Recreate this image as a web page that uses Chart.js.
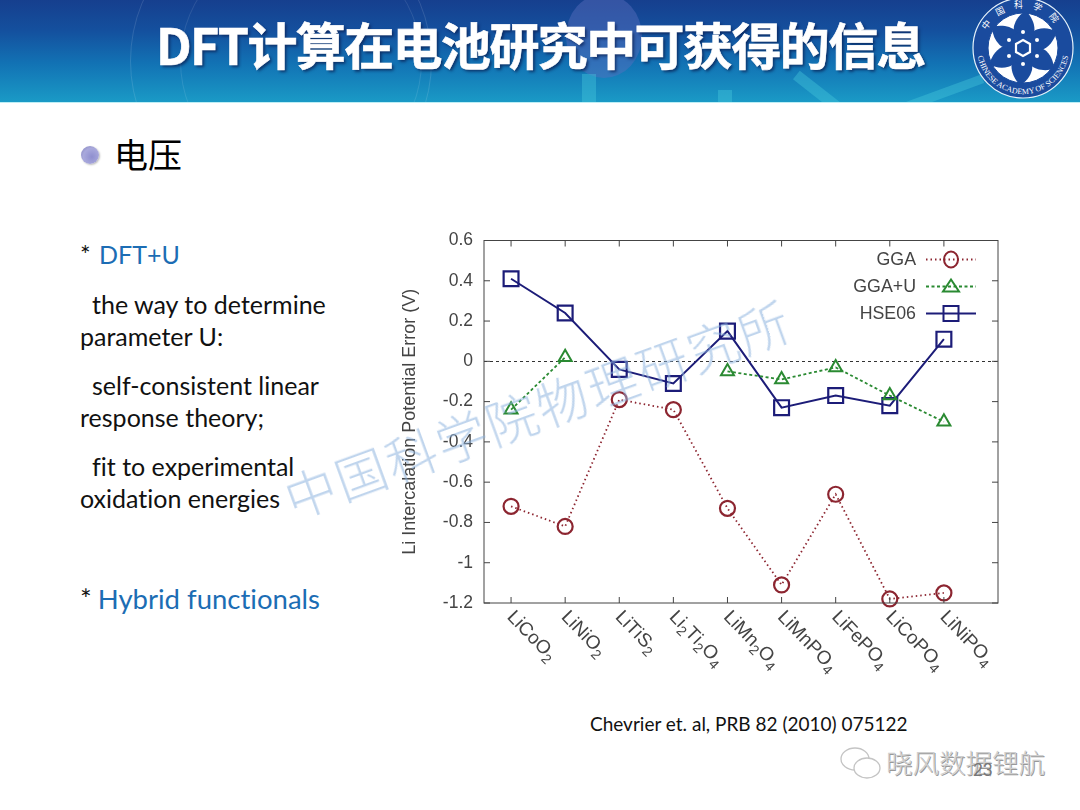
<!DOCTYPE html>
<html>
<head>
<meta charset="utf-8">
<script src="https://cdn.jsdelivr.net/npm/chart.js@4"></script>
<style>
  html, body { margin: 0; padding: 0; background: #fff; }
  #slide { position: relative; width: 1080px; height: 810px; overflow: hidden; background: #fff; font-family: Lato, "Open Sans", sans-serif; color: #111; font-variant-ligatures: none; }
  #header { position: absolute; left: 0; top: 0; width: 1080px; height: 102px; overflow: hidden;
    background: linear-gradient(180deg, #163f8e 0%, #14509e 30%, #1272b4 62%, #1a9ac6 100%); border-bottom: 1px solid #bdeef5; }
  #header .glow { position: absolute; border-radius: 50%; }
  #header .stick { position: absolute; background: rgba(70,200,220,.4); }
  #title { position: absolute; left: 156px; top: 11px; font: 700 50px "Noto Sans CJK SC", sans-serif; letter-spacing: -1.6px; line-height: 64px; color: #fff; white-space: nowrap; -webkit-text-stroke: .6px #fff; text-shadow: 2px 2px 3px rgba(10,30,80,.75); }
  #logo { position: absolute; left: 969px; top: -5px; }
  .line { position: absolute; font-size: 25px; line-height: 32px; white-space: nowrap; transform: translateY(-17px); }
  .blue { color: #1c6db4; margin-left: 2px; }
  #bullet { position: absolute; left: 81px; top: 146px; width: 18px; height: 18px; border-radius: 50%; background: radial-gradient(circle at 60% 60%, #8f8fcf, #a9a9dc 55%, #7f7fb8); box-shadow: 1px 1px 2px #bbb; }
  #head2 { position: absolute; left: 114px; top: 130px; font: 34px/48px "Noto Sans CJK SC", sans-serif; color: #000; }
  #wrap { position: absolute; left: 395px; top: 219px; width: 620px; height: 466px; }
  #cite { position: absolute; left: 590px; top: 712px; font-size: 19px; line-height: 24px; white-space: nowrap; }
  #mark { position: absolute; left: 286px; top: 462px; font: 300 51px "Noto Sans CJK SC", sans-serif; color: rgba(140,178,222,.55); white-space: nowrap; transform-origin: 0 50%; transform: rotate(-20deg); letter-spacing: 2.5px; }
  #wechat { position: absolute; left: 886px; top: 745px; font: 300 26.5px/34px "Noto Sans CJK SC", sans-serif; color: #cfcfcf; white-space: nowrap; text-shadow: 1px 1px 0 #999; }
  #page { position: absolute; left: 973px; top: 760px; font-size: 17px; line-height: 20px; color: #777; }
  #bubbles { position: absolute; left: 838px; top: 745px; }
</style>
</head>
<body>
<div id="slide">
  <div id="header">
    <div class="glow" style="left:566px;top:-6px;width:76px;height:84px;background:rgba(90,110,190,.45)"></div>
    <div class="glow" style="left:130px;top:-90px;width:300px;height:300px;border:1px solid rgba(255,255,255,.12)"></div>
    <div class="glow" style="left:180px;top:-60px;width:240px;height:240px;border:1px solid rgba(255,255,255,.10)"></div>
    <div class="stick" style="left:582px;top:74px;width:14px;height:30px"></div>
    <div class="stick" style="left:718px;top:90px;width:14px;height:14px"></div>
    <div class="stick" style="left:790px;top:88px;width:60px;height:11px;transform:rotate(38deg)"></div>
    <div class="stick" style="left:905px;top:88px;width:80px;height:9px;transform:rotate(-20deg)"></div>
    <div id="title">DFT计算在电池研究中可获得的信息</div>
  </div>
  <svg id="logo" width="108" height="106" viewBox="0 0 108 106">
    <defs>
      <path id="arcTop" d="M14 53 A40 40 0 0 1 94 53"></path>
      <path id="arcBot" d="M8 53 A46 46 0 0 0 100 53"></path>
      <path id="petal" d="M54 47 C46 41 44 30 45 25 C47 18 51 13 57 10 C63 16 67 25 65 33 C63 40 58 44 54 47 Z"></path>
    </defs>
    <circle cx="54" cy="53" r="50" fill="#1a4b9e" stroke="#e6f2fa" stroke-width="1.2"></circle>
    <circle cx="54" cy="53" r="35" fill="#fff" stroke="#1a4b9e" stroke-width="1"></circle>
    <g fill="#1a4b9e">
      <use href="#petal" transform="translate(0 6)"></use>
      <use href="#petal" transform="rotate(60 54 53) translate(0 6)"></use>
      <use href="#petal" transform="rotate(120 54 53) translate(0 6)"></use>
      <use href="#petal" transform="rotate(180 54 53) translate(0 6)"></use>
      <use href="#petal" transform="rotate(240 54 53) translate(0 6)"></use>
      <use href="#petal" transform="rotate(300 54 53) translate(0 6)"></use>
      <circle cx="54" cy="53" r="16"></circle>
    </g>
    <polygon points="54,45 61,49 61,57 54,61 47,57 47,49" fill="none" stroke="#fff" stroke-width="2.2"></polygon>
    <g fill="#fff">
      <circle cx="54" cy="37" r="2"></circle><circle cx="68" cy="45" r="2"></circle><circle cx="68" cy="61" r="2"></circle>
      <circle cx="54" cy="69" r="2"></circle><circle cx="40" cy="61" r="2"></circle><circle cx="40" cy="45" r="2"></circle>
    </g>
    <text font-family="Noto Sans CJK SC" font-size="9" fill="#fff" letter-spacing="9"><textPath href="#arcTop" startOffset="50%" text-anchor="middle">中国科学院</textPath></text>
    <text font-family="Liberation Serif" font-size="8" fill="#fff"><textPath href="#arcBot" startOffset="50%" text-anchor="middle">CHINESE ACADEMY OF SCIENCES</textPath></text>
  </svg>

  <div id="bullet"></div>
  <div id="head2">电压</div>

  <div class="line" style="left:80px;top:255px">* <span class="blue">DFT+U</span></div>
  <div class="line" style="left:92px;top:305px">the way to determine</div>
  <div class="line" style="left:80px;top:337px">parameter U:</div>
  <div class="line" style="left:92px;top:386px">self-consistent linear</div>
  <div class="line" style="left:80px;top:418px">response theory;</div>
  <div class="line" style="left:92px;top:467px">fit to experimental</div>
  <div class="line" style="left:80px;top:499px">oxidation energies</div>
  <div class="line" style="left:80px;top:600px;font-size:27.5px">* <span class="blue" style="margin-left:-1px">Hybrid functionals</span></div>

  <div id="wrap"><canvas id="chart" width="620" height="466"></canvas></div>

  <div id="cite">Chevrier et. al, PRB 82 (2010) 075122</div>
  <div id="mark">中国科学院物理研究所</div>
  <svg id="bubbles" width="46" height="38" viewBox="0 0 46 38" fill="#fff" stroke="#c4c4c4" stroke-width="1.3">
    <ellipse cx="17" cy="14" rx="14" ry="11"></ellipse>
    <ellipse cx="29" cy="23" rx="13" ry="10"></ellipse>
  </svg>
  <div id="wechat">晓风数据锂航</div>
  <div id="page">23</div>
</div>

<script>
var categories = ['LiCoO2', 'LiNiO2', 'LiTiS2', 'Li2Ti2O4', 'LiMn2O4', 'LiMnPO4', 'LiFePO4', 'LiCoPO4', 'LiNiPO4'];
var gga = [-0.72, -0.82, -0.19, -0.24, -0.73, -1.11, -0.66, -1.18, -1.15];
var ggaU = [-0.24, 0.02, null, null, -0.05, -0.09, -0.03, -0.17, -0.30];
var hse06 = [0.41, 0.24, -0.04, -0.11, 0.15, -0.23, -0.17, -0.22, 0.11];
var seriesNames = ['GGA', 'GGA+U', 'HSE06'];
var yTitle = 'Li Intercalation Potential Error (V)';

var RED = '#8c2530', GREEN = '#2a8a32', NAVY = '#1c1c78', INK = '#444';

function points(values) {
  return values.map(function (v, i) { return { x: i, y: v }; });
}

// ticks point inwards on all four sides, gnuplot style
var framePlugin = {
  id: 'frame',
  afterDatasetsDraw: function (chart) {
    var a = chart.chartArea, c = chart.ctx, xs = chart.scales.x, ys = chart.scales.y;
    c.save();
    c.strokeStyle = INK;
    c.lineWidth = 1;
    c.strokeRect(a.left, a.top, a.right - a.left, a.bottom - a.top);
    c.beginPath();
    categories.forEach(function (n, i) {
      var px = xs.getPixelForValue(i);
      c.moveTo(px, a.top); c.lineTo(px, a.top + 6);
      c.moveTo(px, a.bottom); c.lineTo(px, a.bottom - 6);
    });
    ys.ticks.forEach(function (t) {
      var py = ys.getPixelForValue(t.value);
      c.moveTo(a.left, py); c.lineTo(a.left + 6, py);
      c.moveTo(a.right, py); c.lineTo(a.right - 6, py);
    });
    c.stroke();
    c.restore();
  }
};

// slanted category labels with subscript digits
var labelPlugin = {
  id: 'slantLabels',
  afterDraw: function (chart) {
    var c = chart.ctx, xs = chart.scales.x, bottom = chart.chartArea.bottom;
    categories.forEach(function (name, i) {
      c.save();
      c.translate(xs.getPixelForValue(i) - 1, bottom + 11);
      c.rotate(46 * Math.PI / 180);
      c.fillStyle = INK;
      c.textBaseline = 'middle';
      c.textAlign = 'left';
      var x = 0;
      name.split('').forEach(function (ch) {
        var sub = /[0-9]/.test(ch);
        c.font = (sub ? 14 : 19) + 'px "Liberation Sans"';
        c.fillText(ch, x, sub ? 6 : 0);
        x += c.measureText(ch).width;
      });
      c.restore();
    });
  }
};

// key sits inside the plot, text on the left of each sample
var keyPlugin = {
  id: 'key',
  afterDraw: function (chart) {
    var c = chart.ctx, a = chart.chartArea;
    var rows = [
      { color: RED, dash: [1.5, 3], width: 1.8, shape: 'circle' },
      { color: GREEN, dash: [3, 2.5], width: 1.8, shape: 'triangle' },
      { color: NAVY, dash: [], width: 2, shape: 'rect' }
    ];
    var textRight = a.right - 82, x0 = a.right - 72, x1 = a.right - 22;
    rows.forEach(function (r, i) {
      var y = a.top + 19 + i * 27, mid = (x0 + x1) / 2;
      c.save();
      c.fillStyle = INK;
      c.font = '17.8px "Liberation Sans"';
      c.textAlign = 'right';
      c.textBaseline = 'middle';
      c.fillText(seriesNames[i], textRight, y + 1);
      c.strokeStyle = r.color;
      c.lineWidth = r.width;
      c.setLineDash(r.dash);
      c.beginPath(); c.moveTo(x0, y); c.lineTo(x1, y); c.stroke();
      c.setLineDash([]);
      c.lineWidth = 2;
      c.beginPath();
      if (r.shape === 'circle') c.ellipse(mid, y, 7, 8, 0, 0, Math.PI * 2);
      if (r.shape === 'triangle') { c.moveTo(mid, y - 7); c.lineTo(mid + 8, y + 5); c.lineTo(mid - 8, y + 5); c.closePath(); }
      if (r.shape === 'rect') c.rect(mid - 7.5, y - 7.5, 15, 15);
      c.stroke();
      c.restore();
    });
  }
};

new Chart(document.getElementById('chart'), {
  type: 'line',
  data: {
    datasets: [
      { label: seriesNames[0], data: points(gga), borderColor: RED, borderWidth: 1.8, borderDash: [1.5, 3],
        pointStyle: 'circle', pointRadius: 7.5, pointBorderWidth: 2.2, pointBorderColor: RED, pointBackgroundColor: 'transparent', spanGaps: true },
      { label: seriesNames[1], data: points(ggaU), borderColor: GREEN, borderWidth: 1.8, borderDash: [3, 2.5],
        pointStyle: 'triangle', pointRadius: 7.5, pointBorderWidth: 2, pointBorderColor: GREEN, pointBackgroundColor: 'transparent', spanGaps: false },
      { label: seriesNames[2], data: points(hse06), borderColor: NAVY, borderWidth: 2,
        pointStyle: 'rect', pointRadius: 10.5, pointBorderWidth: 2.2, pointBorderColor: NAVY, pointBackgroundColor: 'transparent' }
    ]
  },
  options: {
    responsive: false,
    animation: false,
    clip: false,
    layout: { padding: { top: 5, right: 17, left: 0, bottom: 0 } },
    plugins: { legend: { display: false }, tooltip: { enabled: false } },
    scales: {
      x: {
        type: 'linear', min: -0.5, max: 9,
        grid: { display: false },
        border: { display: false },
        ticks: { display: false },
        afterFit: function (s) { s.height = 82; }
      },
      y: {
        min: -1.2, max: 0.6,
        afterFit: function (s) { s.width = 89; },
        border: { display: false, dash: [3, 3] },
        grid: {
          drawTicks: false,
          color: function (ctx) { return Math.abs(ctx.tick.value) < 1e-6 ? '#333' : 'transparent'; }
        },
        ticks: {
          stepSize: 0.2, padding: 11, color: INK,
          font: { family: '"Liberation Sans"', size: 17.5 },
          callback: function (v) { return String(Number(v.toFixed(1))); }
        },
        title: { display: true, text: yTitle, color: INK, padding: { top: 4, bottom: 0 }, font: { family: '"Liberation Sans"', size: 18 } }
      }
    }
  },
  plugins: [framePlugin, labelPlugin, keyPlugin]
});
</script>
</body>
</html>
